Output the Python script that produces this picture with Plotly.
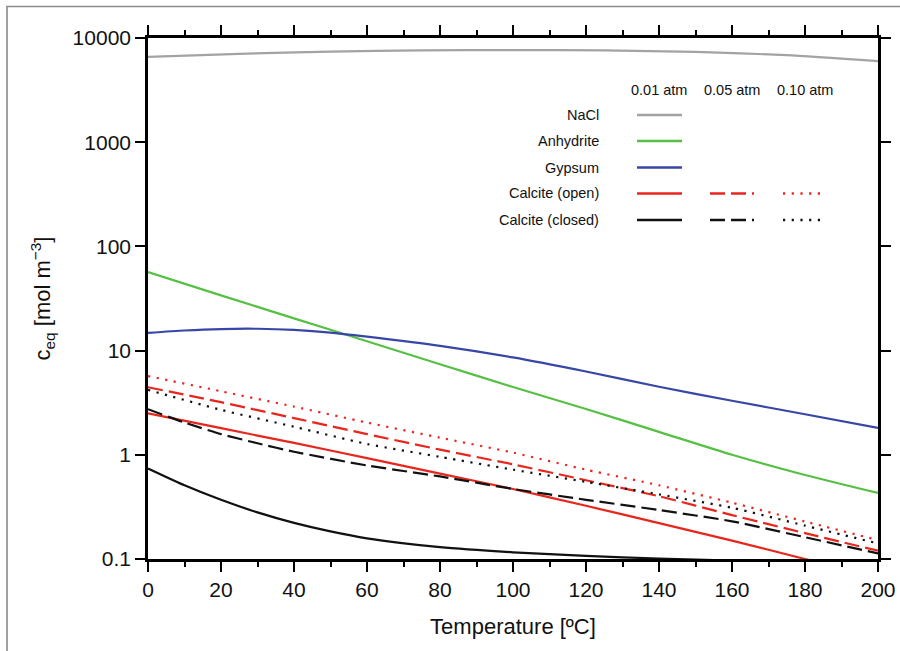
import plotly.graph_objects as go

# ---------------- data ----------------
t_nacl = [0, 25, 50, 75, 100, 125, 150, 175, 200]
nacl = [6580, 7050, 7400, 7600, 7650, 7600, 7350, 6850, 6010]

t_anh = [0, 20, 40, 60, 80, 100, 120, 140, 160, 180, 200]
anhydrite = [56.7, 33.9, 20.4, 12.3, 7.4, 4.47, 2.75, 1.66, 1.0, 0.64, 0.43]

t_gyp = [0, 10, 20, 30, 40, 50, 60, 80, 100, 120, 140, 160, 180, 200]
gypsum = [14.8, 15.6, 16.1, 16.2, 15.8, 14.9, 13.6, 11.1, 8.6, 6.3, 4.5, 3.3, 2.45, 1.81]

t_cal = [0, 20, 40, 60, 80, 100, 120, 140, 160, 180, 200]
calcite_open_001 = [2.5, 1.8, 1.3, 0.93, 0.66, 0.47, 0.324, 0.221, 0.150, 0.10, 0.067]
calcite_open_005 = [4.45, 3.2, 2.25, 1.58, 1.12, 0.81, 0.57, 0.40, 0.264, 0.177, 0.12]
calcite_open_010 = [5.7, 4.07, 2.9, 2.04, 1.46, 1.05, 0.72, 0.51, 0.347, 0.229, 0.152]

t_cc001 = [0, 10, 20, 30, 40, 50, 60, 80, 100, 120, 140, 160, 180, 200]
calcite_closed_001 = [0.74, 0.51, 0.37, 0.28, 0.222, 0.184, 0.158, 0.130, 0.116, 0.107, 0.101, 0.0966, 0.0933, 0.090]

t_cc005 = [0, 10, 20, 30, 40, 60, 80, 100, 120, 140, 160, 180, 200]
calcite_closed_005 = [2.74, 2.04, 1.58, 1.29, 1.07, 0.79, 0.62, 0.47, 0.37, 0.295, 0.23, 0.162, 0.113]

calcite_closed_010 = [4.2, 2.7, 1.86, 1.27, 0.955, 0.72, 0.55, 0.417, 0.31, 0.209, 0.141]

x_ticks = [0, 20, 40, 60, 80, 100, 120, 140, 160, 180, 200]
y_ticks = [0.1, 1, 10, 100, 1000, 10000]
y_ticktext = ["0.1", "1", "10", "100", "1000", "10000"]

legend_rows = ["NaCl", "Anhydrite", "Gypsum", "Calcite (open)", "Calcite (closed)"]
legend_cols = ["0.01 atm", "0.05 atm", "0.10 atm"]

# ---------------- styles ----------------
GRAY = "#a3a3a3"
GREEN = "#55c043"
BLUE = "#3846a6"
RED = "#e8261c"
BLACK = "#111111"
DASH = "15px,6px"
DOT = "2.2px,6.5px"
FONT = "Liberation Sans, Arial, Helvetica, sans-serif"
LW = 2.2

series = [
    (t_nacl, nacl, GRAY, "solid"),
    (t_anh, anhydrite, GREEN, "solid"),
    (t_gyp, gypsum, BLUE, "solid"),
    (t_cal, calcite_open_001, RED, "solid"),
    (t_cal, calcite_open_005, RED, DASH),
    (t_cal, calcite_open_010, RED, DOT),
    (t_cc001, calcite_closed_001, BLACK, "solid"),
    (t_cc005, calcite_closed_005, BLACK, DASH),
    (t_cal, calcite_closed_010, BLACK, DOT),
]

fig = go.Figure()
for xs, ys, col, dash in series:
    fig.add_trace(go.Scatter(
        x=xs, y=ys, mode="lines", showlegend=False, hoverinfo="skip",
        line=dict(color=col, width=LW, dash=dash, shape="spline", smoothing=0.6),
    ))

# ---------------- layout / geometry ----------------
W, H = 900, 651
L, R, T, B = 148, 22, 38, 92
pw, ph = W - L - R, H - T - B


def px(xp):
    return (xp - L) / pw


def py(yp):
    return (H - B - yp) / ph


shapes = []
annotations = []

# outer gray frame
shapes.append(dict(type="rect", xref="paper", yref="paper",
                   x0=px(7), x1=px(910), y0=py(660), y1=py(6.5),
                   line=dict(color="#8a8a8a", width=1.6), fillcolor="rgba(0,0,0,0)",
                   layer="below"))

# custom legend
row_y = [115, 141, 167.5, 193.5, 220]
col_x = [(637, 682), (710, 754), (783, 823)]
col_center = [659, 732, 805]
for cx, txt in zip(col_center, legend_cols):
    annotations.append(dict(xref="paper", yref="paper", x=px(cx), y=py(90),
                            text=txt, showarrow=False, xanchor="center", yanchor="middle",
                            font=dict(family=FONT, size=14.5, color="#111")))
for ry, txt in zip(row_y, legend_rows):
    annotations.append(dict(xref="paper", yref="paper", x=px(601), y=py(ry),
                            text=txt, showarrow=False, xanchor="right", yanchor="middle",
                            font=dict(family=FONT, size=14.5, color="#111")))

legend_lines = [
    (0, 0, GRAY, "solid"), (1, 0, GREEN, "solid"), (2, 0, BLUE, "solid"),
    (3, 0, RED, "solid"), (3, 1, RED, DASH), (3, 2, RED, DOT),
    (4, 0, BLACK, "solid"), (4, 1, BLACK, DASH), (4, 2, BLACK, DOT),
]
for r, c, col, dash in legend_lines:
    x0, x1 = col_x[c]
    shapes.append(dict(type="line", xref="paper", yref="paper",
                       x0=px(x0), x1=px(x1), y0=py(row_y[r]), y1=py(row_y[r]),
                       line=dict(color=col, width=2.6, dash=dash)))

axis_common = dict(
    showgrid=False, zeroline=False, showline=True, linecolor="black", linewidth=2.6,
    mirror="ticks", ticks="outside", ticklen=10, tickwidth=2.2, tickcolor="black",
    tickfont=dict(family=FONT, size=21, color="#111"),
)

fig.update_layout(
    width=W, height=H,
    margin=dict(l=L, r=R, t=T, b=B, autoexpand=False),
    paper_bgcolor="white", plot_bgcolor="white",
    shapes=shapes, annotations=annotations,
    xaxis=dict(
        range=[0, 200], tickvals=x_ticks, ticktext=[str(v) for v in x_ticks],
        minor=dict(dtick=10, tick0=0, ticks="outside", ticklen=5, tickwidth=2.2, tickcolor="black", showgrid=False),
        title=dict(text="Temperature [ºC]", font=dict(family=FONT, size=22, color="#111"), standoff=19),
        automargin=False,
        **axis_common,
    ),
    yaxis=dict(
        type="log", range=[-1, 4], tickvals=y_ticks, ticktext=y_ticktext,
        title=dict(text="c<sub>eq</sub> [mol m<sup>−3</sup>]", font=dict(family=FONT, size=22, color="#111"), standoff=16),
        automargin=False,
        **axis_common,
    ),
)

fig.write_html("out.html", config={"displayModeBar": False},
               post_script="document.body.style.margin='0';")
